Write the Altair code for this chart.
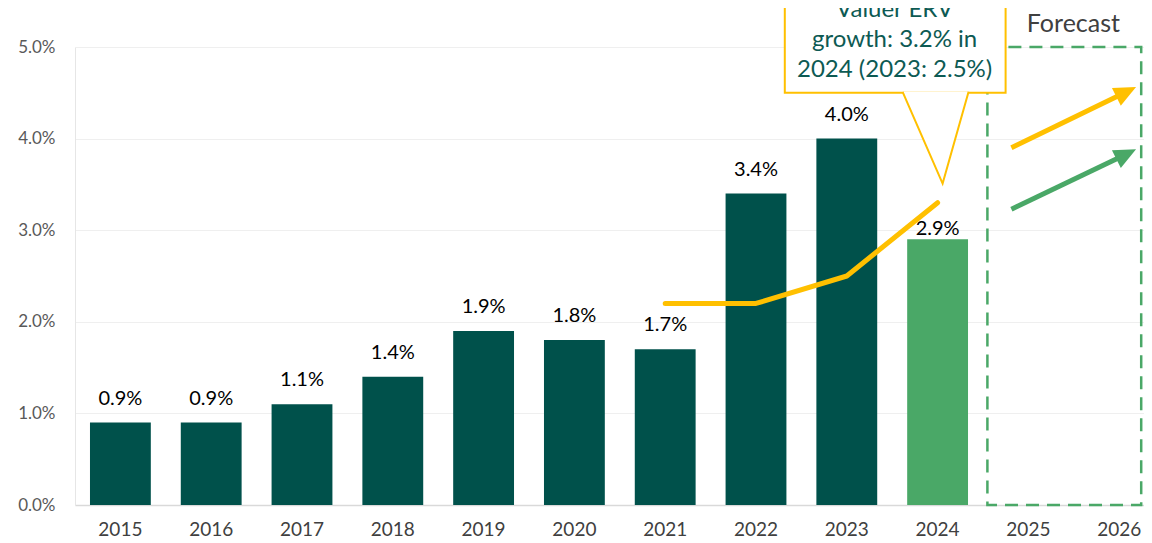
import altair as alt
import pandas as pd

# ---- data ----
years = [str(y) for y in range(2015, 2027)]
bar_years = years[:10]
bar_values = [0.9, 0.9, 1.1, 1.4, 1.9, 1.8, 1.7, 3.4, 4.0, 2.9]
erv_years = ["2021", "2022", "2023", "2024"]
erv_values = [2.2, 2.2, 2.5, 3.3]
callout_lines = ["Valuer ERV", "growth: 3.2% in", "2024 (2023: 2.5%)"]
forecast_label = "Forecast"
arrow_colors = ["#FFC000", "#4AA867"]
arrow_y_start = [3.90, 3.23]
arrow_y_tip = [4.51, 3.83]

DARK = "#00514B"
GREEN = "#4AA867"
YELLOW = "#FFC000"
TEAL = "#0D5A53"
FONT = "Lato"

x_scale = alt.Scale(domain=years, range=[0, 1089.6], paddingInner=0.33, paddingOuter=0.165)
y_scale = alt.Scale(domain=[0, 5], nice=False)

bars_df = pd.DataFrame({"year": bar_years, "value": bar_values})
bars_df["label"] = [f"{v:.1f}%" for v in bar_values]

bars = alt.Chart(bars_df).mark_bar().encode(
    x=alt.X("year:N", scale=x_scale, title=None,
            axis=alt.Axis(labelAngle=0, ticks=False, domainColor="#D9D9D9", domainWidth=1.5,
                          labelFontSize=19, labelColor="#404040", labelPadding=15, labelFont=FONT,
                          grid=False)),
    y=alt.Y("value:Q", scale=y_scale, title=None,
            axis=alt.Axis(values=[0, 1, 2, 3, 4, 5], labelExpr="format(datum.value, '.1f') + '%'",
                          gridColor="#EFEFEF", gridWidth=1, ticks=False, domainColor="#E6E6E6",
                          labelFontSize=17, labelColor="#595959", labelPadding=20, labelFont=FONT)),
    color=alt.condition("datum.year == '2024'", alt.value(GREEN), alt.value(DARK)),
)

labels_main = alt.Chart(bars_df).transform_filter("datum.year != '2024'").mark_text(
    baseline="alphabetic", dy=-18, fontSize=20, color="#000000", font=FONT
).encode(x=alt.X("year:N", title=None), y=alt.Y("value:Q", title=None), text="label:N")

labels_hl = alt.Chart(bars_df).transform_filter("datum.year == '2024'").mark_text(
    baseline="alphabetic", dy=-4, fontSize=20, color="#000000", font=FONT
).encode(x=alt.X("year:N", title=None), y=alt.Y("value:Q", title=None), text="label:N")

erv_df = pd.DataFrame({"year": erv_years, "value": erv_values})
line = alt.Chart(erv_df).mark_line(color=YELLOW, strokeWidth=5, strokeCap="round", strokeJoin="round").encode(
    x=alt.X("year:N", title=None), y=alt.Y("value:Q", title=None)
)

box_df = pd.DataFrame({"year": ["2025"], "year2": ["2026"], "value": [0.0], "value2": [5.0]})
forecast_box = alt.Chart(box_df).mark_rect(
    fillOpacity=0, stroke=GREEN, strokeWidth=2.5, strokeDash=[13, 8], xOffset=-41, x2Offset=22
).encode(x=alt.X("year:N", title=None), x2="year2:N", y=alt.Y("value:Q", title=None), y2="value2:Q")

callout_df = pd.DataFrame({"year": ["2023"], "year2": ["2024"], "value": [4.5], "value2": [5.8]})
callout_box = alt.Chart(callout_df).mark_rect(
    fill="white", stroke=YELLOW, strokeWidth=2, xOffset=-62, x2Offset=68
).encode(x=alt.X("year:N", title=None), x2="year2:N", y=alt.Y("value:Q", title=None), y2="value2:Q")

pointer_df = pd.DataFrame({"year": ["2024"], "value": [4.0]})
pointer = alt.Chart(pointer_df).mark_point(
    shape="M -0.733 -1.04 L 0.156 1 L 0.733 -1.04", size=8100, filled=True, fill="white",
    stroke=YELLOW, strokeWidth=2, opacity=1, xOffset=-2
).encode(x=alt.X("year:N", title=None), y=alt.Y("value:Q", title=None))

callout_text_df = pd.DataFrame({"year": ["2024"], "value": [5.40], "text": [callout_lines]})
callout_text = alt.Chart(callout_text_df).mark_text(
    fontSize=24, color=TEAL, lineHeight=30, font=FONT, baseline="middle", align="center", dx=-43
).encode(x=alt.X("year:N", title=None), y=alt.Y("value:Q", title=None), text="text")

fc_df = pd.DataFrame({"year": ["2025"], "value": [5.164], "text": [forecast_label]})
fc_text = alt.Chart(fc_df).mark_text(
    fontSize=25, color="#404040", font=FONT, baseline="alphabetic", align="center", dx=45
).encode(x=alt.X("year:N", title=None), y=alt.Y("value:Q", title=None), text="text:N")

arrow_df = pd.DataFrame({"year": ["2025", "2025"], "year2": ["2026", "2026"],
                         "value": arrow_y_start, "value2": arrow_y_tip, "c": arrow_colors})
arrow_shaft = alt.Chart(arrow_df).mark_rule(strokeWidth=5, xOffset=-17, x2Offset=7).encode(
    x=alt.X("year:N", title=None), x2="year2:N", y=alt.Y("value:Q", title=None), y2="value2:Q",
    color=alt.Color("c:N", scale=None)
)
head_df = pd.DataFrame({"year": ["2026", "2026"], "value": arrow_y_tip, "c": arrow_colors})
arrow_head = alt.Chart(head_df).mark_point(
    shape="M 0 -1 L 0.9 1 L -0.9 1 Z", size=484, filled=True, angle=63.4, opacity=1, xOffset=7
).encode(x=alt.X("year:N", title=None), y=alt.Y("value:Q", title=None),
         color=alt.Color("c:N", scale=None))

chart = alt.layer(
    bars, forecast_box, line, labels_main, labels_hl, callout_box, pointer, callout_text,
    fc_text, arrow_shaft, arrow_head
).properties(
    width=1069, height=458,
    autosize=alt.AutoSizeParams(type="none"),
    padding={"left": 67, "top": 39, "right": 0, "bottom": 38},
).configure_view(stroke=None)

chart.save("out.html", embed_options={"renderer": "svg", "actions": False})
